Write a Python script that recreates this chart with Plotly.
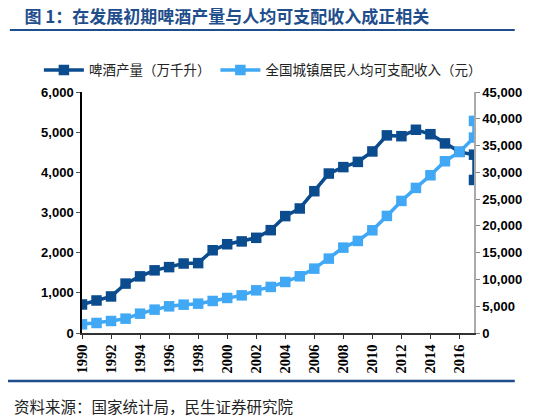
import plotly.graph_objects as go # plotly graph objects

# data (last year shows two points at the same position)
years = [1990, 1991, 1992, 1993, 1994, 1995, 1996, 1997, 1998, 1999,
         2000, 2001, 2002, 2003, 2004, 2005, 2006, 2007, 2008, 2009,
         2010, 2011, 2012, 2013, 2014, 2015, 2016, 2017, 2017]
beer_output = [710, 810, 910, 1230, 1410, 1560, 1640, 1730, 1740, 2060,
               2210, 2280, 2370, 2560, 2910, 3100, 3530, 3970, 4130, 4260,
               4520, 4920, 4900, 5060, 4950, 4720, 4510, 4440, 3810]
urban_income = [1620, 1870, 2240, 2680, 3610, 4360, 4980, 5290, 5480, 5980,
                6540, 7030, 7970, 8600, 9530, 10590, 12020, 13890, 15940, 17190,
                19180, 21860, 24660, 27090, 29450, 32070, 33810, 36490, 39600]

beer_name = "啤酒产量（万千升）"
income_name = "全国城镇居民人均可支配收入（元）"
title_text = "图 1：在发展初期啤酒产量与人均可支配收入成正相关"
source_text = "资料来源：国家统计局，民生证券研究院"

dark_blue = "#0B4C8E"
light_blue = "#40A8F4"
cjk = "Noto Sans CJK SC"

fig = go.Figure()
fig.add_trace(go.Scatter( # beer output on left axis
    x=years, y=beer_output, name=beer_name, mode="lines+markers",
    line=dict(color=dark_blue, width=3.5),
    marker=dict(symbol="square", size=10.5, color=dark_blue),
    yaxis="y"
))
fig.add_trace(go.Scatter( # income on right axis
    x=years, y=urban_income, name=income_name, mode="lines+markers",
    line=dict(color=light_blue, width=3.5),
    marker=dict(symbol="square", size=10.5, color=light_blue),
    yaxis="y2"
))

tick_font = dict(family="Liberation Sans", size=13, color="black", weight="bold")

# page has an 8px body margin, so the figure is shrunk by that amount
fig.update_layout(
    width=546, height=408,
    margin=dict(l=74, r=80, t=84, b=83, autoexpand=False),
    paper_bgcolor="white", plot_bgcolor="white",
    title=dict(text=title_text, xref="container", yref="container",
               x=0.03, y=0.978, xanchor="left", yanchor="middle",
               font=dict(family=cjk, size=17, color="#1F4E8C", weight="bold")),
    showlegend=True,
    legend=dict(orientation="h", x=-0.11, y=1.09, xanchor="left", yanchor="middle",
                font=dict(family=cjk, size=13.5, color="#222222"),
                itemwidth=40, bgcolor="rgba(0,0,0,0)"),
    xaxis=dict(range=[1990, 2017], tick0=1990, dtick=2, tickangle=-90,
               showgrid=False, zeroline=False, showline=True, linecolor="#333333",
               linewidth=1.5, ticks="outside", ticklen=4, tickcolor="#333333",
               automargin=False,
               tickfont=dict(family="Liberation Serif", size=14.5, color="black",
                             weight="bold")),
    yaxis=dict(range=[0, 6000], dtick=1000, tickformat=",", showgrid=False,
               zeroline=False, showline=True, linecolor="black", linewidth=1.5,
               ticks="outside", ticklen=4, tickcolor="#555555", automargin=False,
               tickfont=tick_font),
    yaxis2=dict(range=[0, 45000], dtick=5000, tickformat=",", overlaying="y",
                side="right", showgrid=False, zeroline=False, showline=True,
                linecolor="#aaaaaa", linewidth=1.5, ticks="outside", ticklen=4,
                tickcolor="#888888", automargin=False, tickfont=tick_font),
)

# source text
fig.add_annotation(text=source_text, xref="paper", yref="paper",
                   x=-0.179, y=-0.303, xanchor="left", yanchor="middle",
                   showarrow=False, font=dict(family=cjk, size=15.5, color="#222222"))

# rules under title and above source
fig.add_shape(type="line", xref="paper", yref="paper", x0=-0.184, x1=1.104,
              y0=1.257, y1=1.257, line=dict(color="#1F4E8C", width=2))
fig.add_shape(type="line", xref="paper", yref="paper", x0=-0.189, x1=1.104,
              y0=-0.199, y1=-0.199, line=dict(color="#1F4E8C", width=2.5))

fig.write_html("out.html")
